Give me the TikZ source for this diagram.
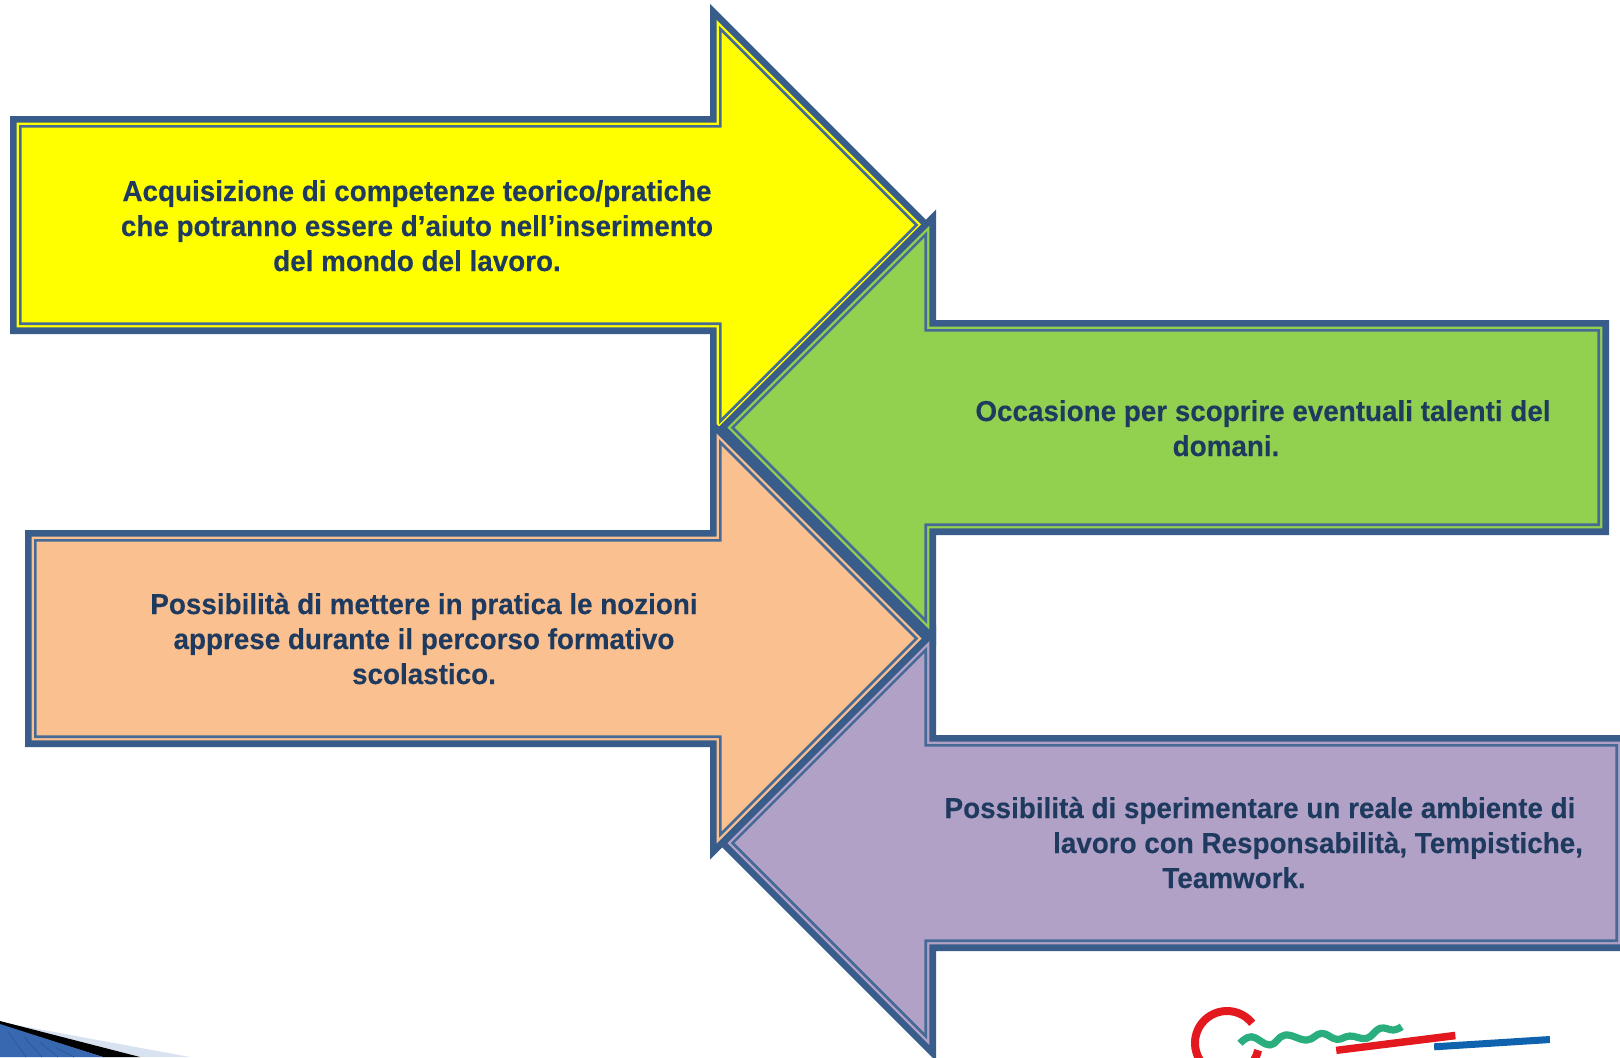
\documentclass[tikz,border=0pt]{standalone}
\usepackage{fontspec}
\setmainfont[FakeStretch=0.966,BoldFeatures={FakeStretch=0.966,FakeBold=0.25}]{Liberation Sans}
\definecolor{edgeblue}{HTML}{385D8A}
\definecolor{thinblue}{HTML}{456A96}
\definecolor{txtblue}{HTML}{1F3A5F}
\definecolor{fillyellow}{HTML}{FFFF00}
\definecolor{fillgreen}{HTML}{92D050}
\definecolor{fillpeach}{HTML}{FAC090}
\definecolor{fillpurple}{HTML}{B2A1C7}
\definecolor{logored}{HTML}{E3191F}
\definecolor{logogreen}{HTML}{2BAE7E}
\definecolor{logoblue}{HTML}{0F62AE}
\definecolor{cornerlight}{HTML}{D9E2F0}
\definecolor{cornerblue}{HTML}{3868B0}
\definecolor{cornerhatch}{HTML}{2E5A9B}
% #1 sign (1 = points right, -1 = points left), #2 far end x, #3 top y, #4 bottom y, #5 neck x, #6 tip x, #7 inset, #8 colour
\newcommand\blockarrowlayer[8]{%
  \pgfmathsetmacro\ayc{(#3+#4)/2}%
  \pgfmathsetmacro\aend{#2+#1*#7}%
  \pgfmathsetmacro\aneck{#5+#1*#7}%
  \pgfmathsetmacro\atip{#6-#1*#7*1.41421}%
  \pgfmathsetmacro\ahead{abs(\atip-\aneck)}%
  \pgfmathsetmacro\atop{#3+#7}%
  \pgfmathsetmacro\abot{#4-#7}%
  \fill[#8] (\aend,\atop) -- (\aneck,\atop) -- (\aneck,\ayc-\ahead) -- (\atip,\ayc)
    -- (\aneck,\ayc+\ahead) -- (\aneck,\abot) -- (\aend,\abot) -- cycle;%
}
\newcommand\blockarrow[7]{%
  \blockarrowlayer{#1}{#2}{#3}{#4}{#5}{#6}{0}{edgeblue}%
  \blockarrowlayer{#1}{#2}{#3}{#4}{#5}{#6}{6.7}{#7}%
  \blockarrowlayer{#1}{#2}{#3}{#4}{#5}{#6}{9}{thinblue}%
  \blockarrowlayer{#1}{#2}{#3}{#4}{#5}{#6}{11.7}{#7}%
}
\tikzset{
  linetext/.style={anchor=base,inner sep=0pt,text=txtblue,font=\fontsize{14.4pt}{17pt}\selectfont\bfseries},
  logostroke/.style={line cap=butt,line join=round}
}
\begin{document}
\begin{tikzpicture}[x=0.5pt,y=-0.5pt]
\useasboundingbox (0,0) rectangle (1620,1057);
\fill[white] (0,0) rectangle (1620,1057);
\clip (0,0) rectangle (1620,1057);
% bottom-left decoration
\fill[cornerlight] (0,1022) -- (190,1057) -- (0,1057) -- cycle;
\fill[black] (0,1021) -- (140,1057) -- (103,1057) -- (0,1025) -- cycle;
\fill[cornerblue] (0,1024) -- (103,1057) -- (0,1057) -- cycle;
\foreach \hx in {8,24,40,56}{\draw[line width=0.4pt,cornerhatch] (\hx,1029+\hx/3) -- (\hx+18,1057);}
% arrows
\blockarrow{1}{10}{116}{334}{710}{931}{fillyellow}
\blockarrow{-1}{1609}{320}{535}{936}{718}{fillgreen}
\blockarrow{1}{25}{530}{747}{710}{931}{fillpeach}
\blockarrow{-1}{1627}{735}{951}{936}{718}{fillpurple}
% texts
\node[linetext] (y1) at (417,201) {Acquisizione di competenze teorico/pratiche};
\node[linetext] (y2) at (417,236) {che potranno essere d’aiuto nell’inserimento};
\node[linetext] (y3) at (417,271) {del mondo del lavoro.};
\node[linetext] (g1) at (1263,421) {Occasione per scoprire eventuali talenti del};
\node[linetext] (g2) at (1226,456) {domani.};
\node[linetext] (p1) at (424,614) {Possibilità di mettere in pratica le nozioni};
\node[linetext] (p2) at (424,649) {apprese durante il percorso formativo};
\node[linetext] (p3) at (424,684) {scolastico.};
\node[linetext] (v1) at (1260,818) {Possibilità di sperimentare un reale ambiente di};
\node[linetext] (v2) at (1318,853) {lavoro con Responsabilità, Tempistiche,};
\node[linetext] (v3) at (1234,888) {Teamwork.};
% logo fragment
\draw[logored,line width=4pt] (1252.2,1023.3) arc[start angle=-38,end angle=-347,radius=32];
\fill[logored] (1335.7,1046.7) -- (1455,1031.7) -- (1455.7,1039.3) -- (1336.7,1054) -- cycle;
\fill[logoblue] (1434,1043.3) -- (1549.7,1036) -- (1550,1043) -- (1434.3,1050.3) -- cycle;
\draw[logogreen,line width=3.6pt,logostroke] plot[smooth,tension=0.7] coordinates {(1240,1043.3) (1251.7,1036.7) (1270,1045) (1285,1035) (1306.7,1040) (1321.7,1033.3) (1336.7,1039.3) (1350,1036) (1366.7,1038.3) (1380,1028.3) (1393.3,1030) (1401.7,1026.7)};
\end{tikzpicture}
\end{document}
